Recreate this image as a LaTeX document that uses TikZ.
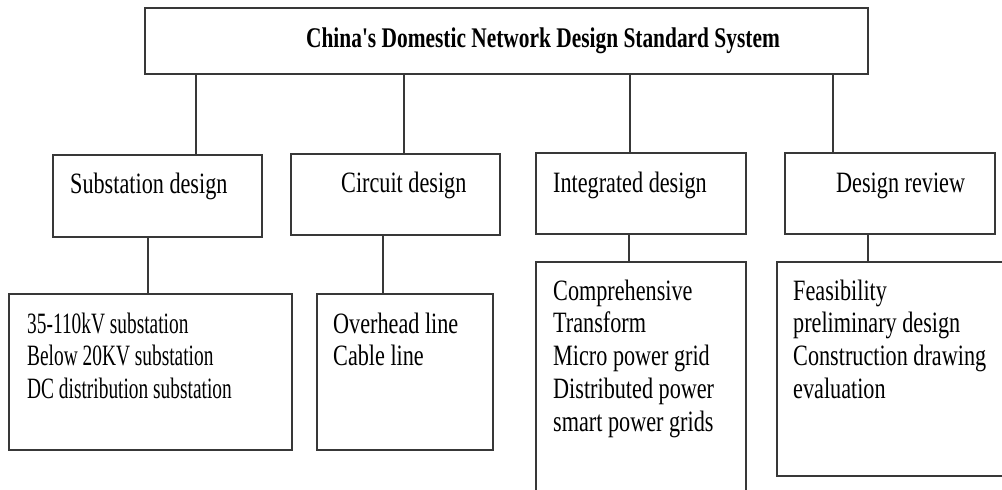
\documentclass[tikz,border=0pt]{standalone}
\usepackage{fontspec}
\setmainfont{Liberation Serif}
\newcommand{\tallt}[1]{\scalebox{1}[1.33]{#1}}
\newcommand{\narrowt}[1]{\scalebox{0.873}[1.33]{#1}}
\begin{document}
\begin{tikzpicture}[x=1pt,y=-1pt,
  box/.style={draw=black!78,line width=1.7pt,anchor=north west,inner sep=0pt,outer sep=0pt},
  link/.style={draw=black!78,line width=1.7pt},
  txt/.style={inner sep=0pt,anchor=base west,font=\fontsize{22.2}{24.8}\selectfont},
  ttl/.style={inner sep=0pt,anchor=base,font=\fontsize{21.4}{24}\selectfont\bfseries}]
\useasboundingbox (0,0) rectangle (1002,490);
% top box
\node[box,minimum width=723pt,minimum height=66pt] (top) at (145,8) {};
\node[ttl] (title) at (543,47) {\tallt{China\textquotesingle s Domestic Network Design Standard System}};
% level 2
\node[box,minimum width=209pt,minimum height=82pt] (sub) at (53,155) {};
\node[box,minimum width=209pt,minimum height=81pt] (cir) at (291,154) {};
\node[box,minimum width=210pt,minimum height=81pt] (int) at (536,153) {};
\node[box,minimum width=210pt,minimum height=81pt] (rev) at (785,153) {};
\node[txt] (subt) at (70,193) {\tallt{Substation design}};
\node[txt] (cirt) at (341,192) {\tallt{Circuit design}};
\node[txt] (intt) at (553,192) {\tallt{Integrated design}};
\node[txt] (revt) at (836,192) {\tallt{Design review}};
% level 3
\node[box,minimum width=283pt,minimum height=156pt] (b1) at (9,294) {};
\node[box,minimum width=176pt,minimum height=156pt] (b2) at (317,294) {};
\node[box,minimum width=210pt,minimum height=240pt] (b3) at (536,262) {};
\node[box,minimum width=240pt,minimum height=214pt] (b4) at (777,262) {};
\node[txt] (b1t) at (27,333) {\narrowt{\begin{tabular}[t]{@{}l@{}}35-110kV substation\\Below 20KV substation\\DC distribution substation\end{tabular}}};
\node[txt] (b2t) at (333,333) {\tallt{\begin{tabular}[t]{@{}l@{}}Overhead line\\Cable line\end{tabular}}};
\node[txt] (b3t) at (553,300) {\tallt{\begin{tabular}[t]{@{}l@{}}Comprehensive\\Transform\\Micro power grid\\Distributed power\\smart power grids\end{tabular}}};
\node[txt] (b4t) at (793,300) {\tallt{\begin{tabular}[t]{@{}l@{}}Feasibility\\preliminary design\\Construction drawing\\evaluation\end{tabular}}};
% connector columns
\coordinate (c1) at (196,0);
\coordinate (c2) at (404,0);
\coordinate (c3) at (630,0);
\coordinate (c4) at (833,0);
\coordinate (d1) at (148,0);
\coordinate (d2) at (383,0);
\coordinate (d3) at (629,0);
\coordinate (d4) at (868,0);
\draw[link] (top.south -| c1) -- (sub.north -| c1);
\draw[link] (top.south -| c2) -- (cir.north -| c2);
\draw[link] (top.south -| c3) -- (int.north -| c3);
\draw[link] (top.south -| c4) -- (rev.north -| c4);
\draw[link] (sub.south -| d1) -- (b1.north -| d1);
\draw[link] (cir.south -| d2) -- (b2.north -| d2);
\draw[link] (int.south -| d3) -- (b3.north -| d3);
\draw[link] (rev.south -| d4) -- (b4.north -| d4);
\end{tikzpicture}
\end{document}
